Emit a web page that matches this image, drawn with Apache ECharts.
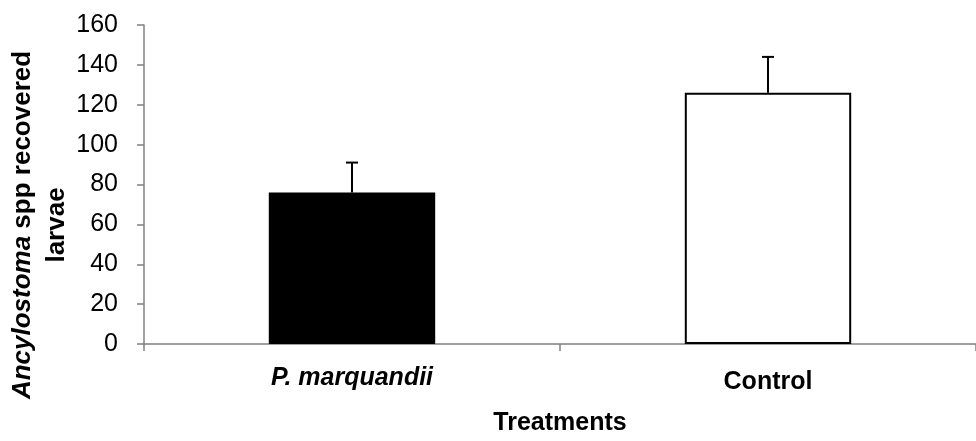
<!DOCTYPE html>
<html>
<head>
<meta charset="utf-8">
<script src="https://cdn.jsdelivr.net/npm/echarts@6/dist/echarts.min.js"></script>
<style>
  html, body { margin: 0; padding: 0; background: #fff; }
  #chart { width: 976px; height: 441px; }
</style>
</head>
<body>
<div id="chart"></div>
<script>
const categories = ['P. marquandii', 'Control'];
const means = [76, 126];
const errorTops = [91, 144];
const barColors = ['#000000', '#ffffff'];
const yTicks = { min: 0, max: 160, interval: 20 };

const FONT = '"Liberation Sans", Arial, sans-serif';
const chart = echarts.init(document.getElementById('chart'), null, { renderer: 'canvas' });

const errData = categories.map((c, i) => [i, means[i], errorTops[i]]);

chart.setOption({
  animation: false,
  backgroundColor: '#ffffff',
  grid: { left: 144, width: 839, top: 25, bottom: 93, containLabel: false },
  xAxis: {
    type: 'category',
    data: categories,
    name: 'Treatments',
    nameLocation: 'middle',
    nameGap: 67,
    nameTextStyle: { fontFamily: FONT, fontSize: 25, fontWeight: 'bold', color: '#000' },
    axisLine: { lineStyle: { color: '#808080', width: 1.5 } },
    axisTick: { show: true, length: 7, lineStyle: { color: '#808080', width: 1.5 } },
    axisLabel: {
      margin: 22,
      fontFamily: FONT,
      fontSize: 25,
      color: '#000',
      formatter: function (v, i) { return i === 0 ? '{it|' + v + '}' : '{bd|' + v + '}'; },
      rich: {
        it: { fontFamily: FONT, fontSize: 25, fontWeight: 'bold', fontStyle: 'italic', color: '#000' },
        bd: { fontFamily: FONT, fontSize: 25, fontWeight: 'bold', color: '#000', padding: [4, 0, 0, 0] }
      }
    },
    splitLine: { show: false }
  },
  yAxis: {
    type: 'value',
    min: yTicks.min,
    max: yTicks.max,
    interval: yTicks.interval,
    axisLine: { show: true, lineStyle: { color: '#808080', width: 1.5 } },
    axisTick: { show: true, length: 7, lineStyle: { color: '#808080', width: 1.5 } },
    axisLabel: { margin: 26, fontFamily: FONT, fontSize: 25, color: '#000' },
    splitLine: { show: false }
  },
  graphic: [{
    type: 'text',
    x: 40,
    y: 225,
    rotation: Math.PI / 2,
    style: {
      text: '{i|Ancylostoma}{b| spp recovered}\n{b|larvae}',
      align: 'center',
      verticalAlign: 'middle',
      rich: {
        i: { fontFamily: FONT, fontSize: 26, fontWeight: 'bold', fontStyle: 'italic', fill: '#000', lineHeight: 34 },
        b: { fontFamily: FONT, fontSize: 26, fontWeight: 'bold', fill: '#000', lineHeight: 34 }
      }
    }
  }],
  series: [
    {
      type: 'bar',
      barWidth: '40%',
      data: means.map((v, i) => ({
        value: v,
        itemStyle: { color: barColors[i], borderColor: '#000', borderWidth: 2 }
      })),
      z: 2
    },
    {
      type: 'custom',
      z: 5,
      data: errData,
      renderItem: function (params, api) {
        const base = api.coord([api.value(0), api.value(1)]);
        const top = api.coord([api.value(0), api.value(2)]);
        const hw = 6;
        const style = { stroke: '#000', lineWidth: 2 };
        return {
          type: 'group',
          children: [
            { type: 'line', shape: { x1: base[0], y1: base[1], x2: top[0], y2: top[1] }, style: style },
            { type: 'line', shape: { x1: top[0] - hw, y1: top[1], x2: top[0] + hw, y2: top[1] }, style: style }
          ]
        };
      }
    }
  ]
});
</script>
</body>
</html>
